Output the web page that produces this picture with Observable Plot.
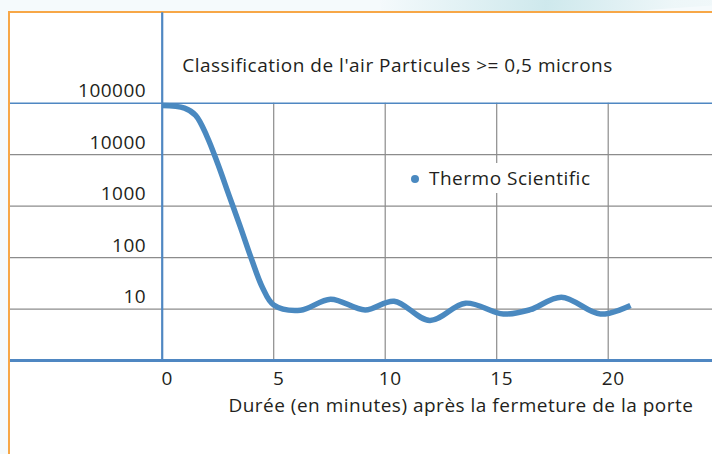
<!DOCTYPE html>
<html><head><meta charset="utf-8">
<script src="https://cdn.jsdelivr.net/npm/d3@7"></script>
<script src="https://cdn.jsdelivr.net/npm/@observablehq/plot@0.6"></script>
<style>
body{margin:0;background:#fff;}
#wrap{position:relative;width:712px;height:454px;overflow:hidden;background:#f5fafc;font-family:"Open Sans",sans-serif;}
#deco{position:absolute;left:380px;top:-30px;width:420px;height:44px;background:linear-gradient(100deg,rgba(200,230,235,0) 0%,rgba(190,225,230,0.7) 40%,rgba(230,243,245,0.5) 70%,rgba(200,230,235,0) 100%);transform:rotate(-4deg);}
#panel{position:absolute;left:8px;top:11px;right:0;bottom:0;background:#fff;border-left:2px solid #f7a747;border-top:2px solid #f7a747;}
#chart{position:absolute;left:0;top:0;}
#legend{position:absolute;left:405px;top:163px;padding:0 6px;background:#fff;font-size:19px;letter-spacing:0.5px;color:#231f20;line-height:30px;white-space:nowrap;}
#legend .dot{display:inline-block;width:8px;height:8px;border-radius:50%;background:#4a89c0;margin-right:10px;vertical-align:middle;position:relative;top:-1px;}
</style></head><body>
<div id="wrap"><div id="deco"></div><div id="panel"></div><div id="chart"></div><div id="legend"></div></div>
<script>
const minutes = [0, 1.0, 1.5, 2.0, 2.5, 3.0, 3.5, 4.0, 4.5, 5.0, 6.2, 7.55, 9.1, 10.4, 12.0, 13.6, 15.3, 16.5, 17.9, 19.65, 21.0];
const counts  = [90000, 80000, 58000, 23000, 6500, 1600, 400, 95, 26, 12, 9.5, 15.5, 9.6, 14.2, 6, 13, 8, 9.7, 17, 8, 11.7];
const yTicks = [10, 100, 1000, 10000, 100000];
const gridY = [10, 100, 1000, 10000];
const xTicks = [0, 5, 10, 15, 20];
const gridX = [5, 10, 15, 20];
const title = "Classification de l'air Particules >= 0,5 microns";
const xLabel = "Durée (en minutes) après la fermeture de la porte";
const seriesName = "Thermo Scientific";

const data = minutes.map((m, i) => ({m, c: counts[i]}));
const font = "'Open Sans', sans-serif";
const ink = "#231f20";
const blue = "#4a89c0";
const axisBlue = "#4f87c2";
const grey = "#8c8c8c";
const fs = 19;

const chart = Plot.plot({
  width: 712, height: 454,
  marginLeft: 10, marginRight: 0, marginTop: 102.7, marginBottom: 94,
  style: {fontFamily: font, fontSize: fs + "px", letterSpacing: "0.5px", color: ink, background: "transparent", overflow: "visible"},
  x: {domain: [-6.803, 24.677], axis: null},
  y: {type: "log", domain: [1, 100000], axis: null},
  marks: [
    Plot.ruleY(gridY, {stroke: grey, strokeWidth: 1.2}),
    Plot.ruleX(gridX, {stroke: grey, strokeWidth: 1.2}),
    Plot.ruleY([100000], {stroke: axisBlue, strokeWidth: 1.6}),
    Plot.ruleY([1], {stroke: axisBlue, strokeWidth: 3}),
    Plot.ruleX([0], {y1: 1, y2: 10 ** 6.76, stroke: axisBlue, strokeWidth: 2.2}),
    Plot.line(data, {x: "m", y: "c", stroke: blue, strokeWidth: 5.5, curve: "catmull-rom", strokeLinecap: "butt"}),
    Plot.text(yTicks, {x: 0, y: d => d, text: d => String(d), textAnchor: "end", dx: -16, dy: -12, fill: ink, fontSize: fs}),
    Plot.text(xTicks, {x: d => d, y: 1, text: d => String(d), dx: 5, dy: 18, fill: ink, fontSize: fs}),
    Plot.text([xLabel], {frameAnchor: "bottom-right", text: d => d, textAnchor: "end", dx: -19, dy: 51, fill: ink, fontSize: fs}),
    Plot.text([title], {x: 0, y: 100000, text: d => d, textAnchor: "start", dx: 20, dy: -37, fill: ink, fontSize: fs})
  ]
});
document.getElementById("chart").appendChild(chart);
document.getElementById("legend").innerHTML = '<span class="dot"></span>' + seriesName;
</script>
</body></html>
